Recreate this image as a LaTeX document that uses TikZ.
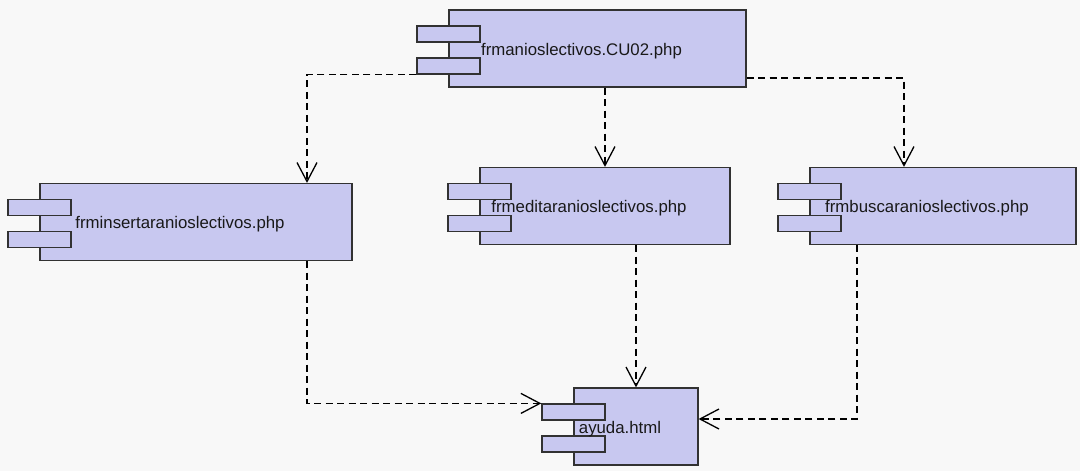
\documentclass[tikz,border=0pt]{standalone}
\usepackage{fontspec}
\setmainfont{Liberation Sans}
\usetikzlibrary{arrows.meta}

\definecolor{compfill}{RGB}{200,200,240}
\definecolor{compline}{RGB}{50,50,50}
\definecolor{bgcol}{RGB}{248,248,248}

\begin{document}
\begin{tikzpicture}[
  x=1pt,
  y=-1pt,
  font=\fontsize{16.8}{20}\selectfont,
  comp/.style={draw=compline, fill=compfill, line width=1.2pt, minimum height=77pt, inner sep=0pt},
  comptab/.style={draw=compline, fill=compfill, line width=1.2pt, minimum width=63pt, minimum height=16pt, inner sep=0pt},
  complabel/.style={inner sep=0pt, text=black!90},
  dep/.style={-{Straight Barb[length=19pt, width=20pt]}, line width=1.3pt, dash pattern=on 7pt off 4.5pt}
]
  \fill[bgcol] (0,0) rectangle (1080,471);

  % components
  \node[comp, minimum width=297pt] (frmanios) at (597.5,48.5) {};
  \node[comptab] (frmaniosT1) at ([yshift=14.5pt]frmanios.west) {};
  \node[comptab] (frmaniosT2) at ([yshift=-17.5pt]frmanios.west) {};
  \node[complabel] (frmaniosL) at ([xshift=-16pt,yshift=-2.5pt]frmanios.center) {frmanioslectivos.CU02.php};

  \node[comp, minimum width=312pt] (insertar) at (196,222) {};
  \node[comptab] (insertarT1) at ([yshift=14.5pt]insertar.west) {};
  \node[comptab] (insertarT2) at ([yshift=-17.5pt]insertar.west) {};
  \node[complabel] (insertarL) at ([xshift=-16pt,yshift=-2.5pt]insertar.center) {frminsertaranioslectivos.php};

  \node[comp, minimum width=250pt] (editar) at (605,206) {};
  \node[comptab] (editarT1) at ([yshift=14.5pt]editar.west) {};
  \node[comptab] (editarT2) at ([yshift=-17.5pt]editar.west) {};
  \node[complabel] (editarL) at ([xshift=-16pt,yshift=-2.5pt]editar.center) {frmeditaranioslectivos.php};

  \node[comp, minimum width=266pt] (buscar) at (943,206) {};
  \node[comptab] (buscarT1) at ([yshift=14.5pt]buscar.west) {};
  \node[comptab] (buscarT2) at ([yshift=-17.5pt]buscar.west) {};
  \node[complabel] (buscarL) at ([xshift=-16pt,yshift=-2.5pt]buscar.center) {frmbuscaranioslectivos.php};

  \node[comp, minimum width=124pt] (ayuda) at (636,426.5) {};
  \node[comptab] (ayudaT1) at ([yshift=14.5pt]ayuda.west) {};
  \node[comptab] (ayudaT2) at ([yshift=-17.5pt]ayuda.west) {};
  \node[complabel] (ayudaL) at ([xshift=-16pt,yshift=-2.5pt]ayuda.center) {ayuda.html};

  % dependencies
  \draw[dep] (frmaniosT2.south west) -| ([xshift=111pt]insertar.north);
  \draw[dep] (editar.north |- frmanios.south) -- (editar.north);
  \draw[dep] ([yshift=-29.5pt]frmanios.east) -| ([xshift=-39pt]buscar.north);
  \draw[dep] ([xshift=111pt]insertar.south) |- (ayudaT1.north west);
  \draw[dep] (ayuda.north |- editar.south) -- (ayuda.north);
  \draw[dep] ([xshift=-86pt]buscar.south) |- ([yshift=7.5pt]ayuda.east);
\end{tikzpicture}
\end{document}
